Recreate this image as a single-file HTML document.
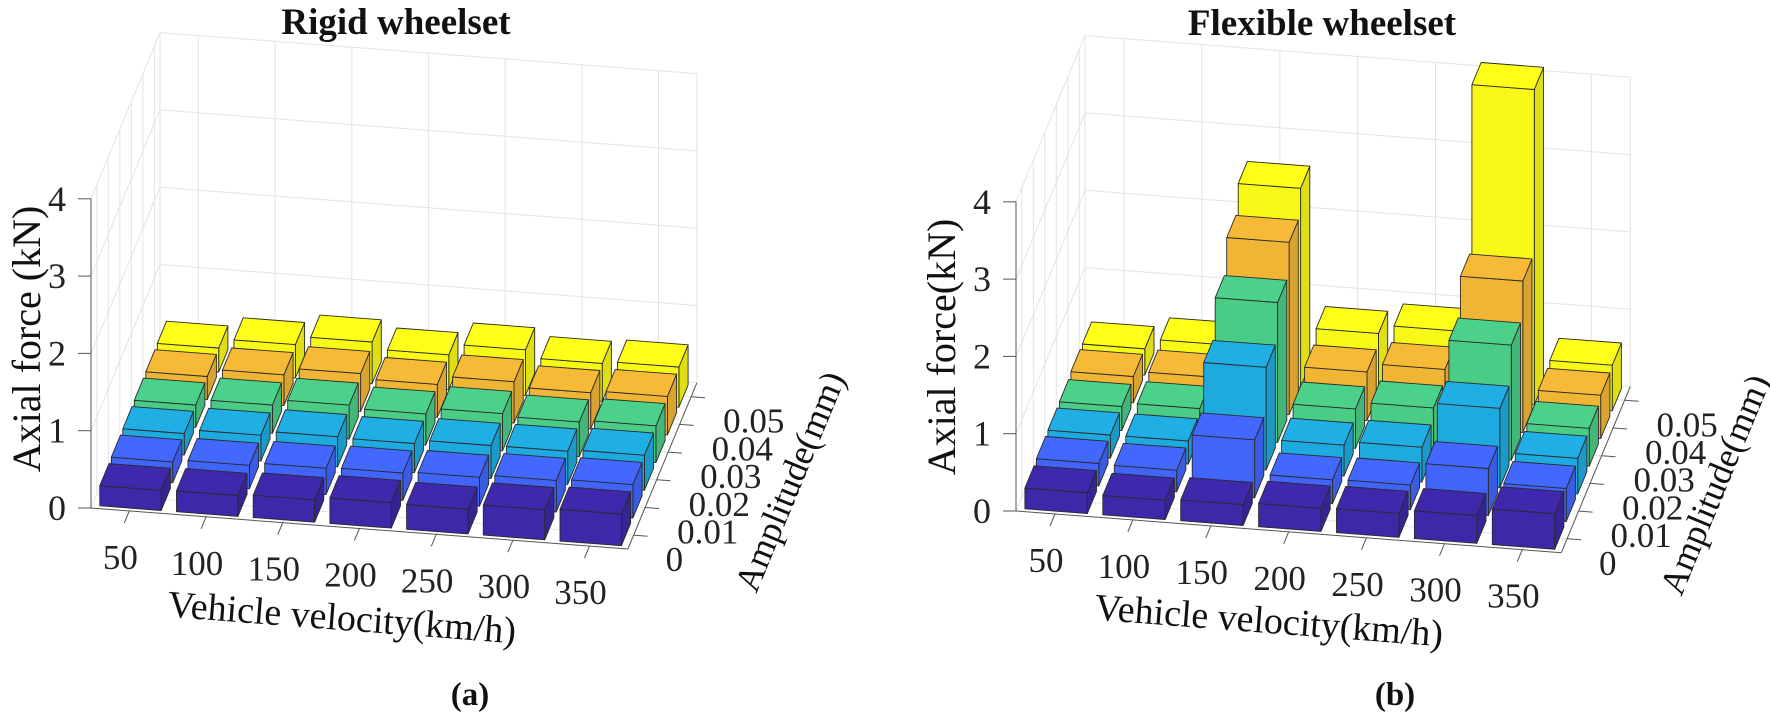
<!DOCTYPE html>
<html><head><meta charset="utf-8">
<style>
html,body{margin:0;padding:0;background:#fff;}
svg, svg text{font-family:"Liberation Serif","Times New Roman","DejaVu Serif",serif;}
</style></head>
<body>
<svg id="s" width="1770" height="717" viewBox="0 0 1770 717" xmlns="http://www.w3.org/2000/svg" font-family="Liberation Serif, serif">
<rect width="1770" height="717" fill="#fff"/>
<g id="L"></g><g id="R"></g>
<g font-family="Liberation Serif, serif" fill="#111">
<text x="396" y="34" font-size="37" font-weight="bold" text-anchor="middle">Rigid wheelset</text>
<text x="1322" y="35" font-size="37" font-weight="bold" text-anchor="middle">Flexible wheelset</text>
<text x="470" y="705" font-size="33" font-weight="bold" text-anchor="middle">(a)</text>
<text x="1395" y="705" font-size="33" font-weight="bold" text-anchor="middle">(b)</text>
<text transform="translate(40,339) rotate(-90)" font-size="40" text-anchor="middle">Axial force (kN)</text>
<text transform="translate(955,347) rotate(-90)" font-size="40" text-anchor="middle">Axial force(kN)</text>
<text transform="translate(341,630) rotate(4.4)" font-size="38" text-anchor="middle">Vehicle velocity(km/h)</text>
<text transform="translate(1268,633) rotate(4.4)" font-size="38" text-anchor="middle">Vehicle velocity(km/h)</text>
<text transform="translate(801,486) rotate(-67.5)" font-size="36" text-anchor="middle">Amplitude(mm)</text>
<text transform="translate(1726,489) rotate(-67.5)" font-size="36" text-anchor="middle">Amplitude(mm)</text>
</g>
</svg>
<script>
var NS="http://www.w3.org/2000/svg";
var cols=["#3c28a8","#4165fb","#1eaade","#4acb86","#f0b535","#f8f816"];
function shade(h,f){var r=parseInt(h.substr(1,2),16),g=parseInt(h.substr(3,2),16),b=parseInt(h.substr(5,2),16);
r=Math.min(255,Math.round(r*f));g=Math.min(255,Math.round(g*f));b=Math.min(255,Math.round(b*f));
return "rgb("+r+","+g+","+b+")";}
function el(p,t,a,txt){var e=document.createElementNS(NS,t);for(var k in a)e.setAttribute(k,a[k]);if(txt!==undefined)e.textContent=txt;p.appendChild(e);return e;}
function chart(gid,ox,oy,pu,H){
  var g=document.getElementById(gid);
  function P(u,v,z){return [ox+(u-0.5)*pu+(v-0.5)*11.5, oy+(u-0.5)*pu*0.0764-(v-0.5)*27.7-77.3*z];}
  function line(a,b,c,w){el(g,"line",{x1:a[0].toFixed(1),y1:a[1].toFixed(1),x2:b[0].toFixed(1),y2:b[1].toFixed(1),stroke:c,"stroke-width":w||1});}
  var gc="#e3e3e3";
  for(var v=1;v<=6;v++)line(P(0.5,v,0),P(7.5,v,0),gc);
  for(var u=1;u<=7;u++)line(P(u,0.5,0),P(u,6.5,0),gc);
  for(var u=1;u<=7;u++)line(P(u,6.5,0),P(u,6.5,4),gc);
  for(var z=1;z<=4;z++)line(P(0.5,6.5,z),P(7.5,6.5,z),gc);
  line(P(0.5,6.5,0),P(0.5,6.5,4),gc);line(P(7.5,6.5,0),P(7.5,6.5,4),gc);
  line(P(0.5,6.5,0),P(7.5,6.5,0),gc);
  for(var v=1;v<=6;v++)line(P(0.5,v,0),P(0.5,v,4),gc);
  for(var z=1;z<=4;z++)line(P(0.5,0.5,z),P(0.5,6.5,z),gc);
  line(P(0.5,0.5,0),P(0.5,6.5,0),gc);
  var ac="#555";
  line(P(0.5,0.5,0),P(0.5,0.5,4),ac);
  line(P(0.5,0.5,0),P(7.5,0.5,0),ac);
  line(P(7.5,0.5,0),P(7.5,6.5,0),ac);
  var ff="Liberation Serif, serif";
  for(var z=0;z<=4;z++){var p=P(0.5,0.5,z);line(p,[p[0]-13,p[1]],ac);
    el(g,"text",{x:p[0]-34,y:p[1]+12,"font-size":36,"text-anchor":"middle","font-family":ff,fill:"#222"},String(z));}
  var vl=["50","100","150","200","250","300","350"];
  for(var u=1;u<=7;u++){var p=P(u,0.5,0);line(p,[p[0]-5,p[1]+12],ac);
    el(g,"text",{x:p[0]-9,y:p[1]+58,"font-size":35,"text-anchor":"middle","font-family":ff,fill:"#222"},vl[u-1]);}
  var al=["0","0.01","0.02","0.03","0.04","0.05"];
  for(var v=1;v<=6;v++){var p=P(7.5,v,0);line(p,[p[0]+14,p[1]+1],ac);
    el(g,"text",{x:p[0]+32,y:p[1]+36,"font-size":35,"font-family":ff,fill:"#222"},al[v-1]);}
  for(var r=6;r>=1;r--){for(var c=1;c<=7;c++){
    var h=H[r-1][c-1],u0=c-0.4,u1=c+0.4,v0=r-0.4,v1=r+0.4,col=cols[r-1];
    function poly(pts,f){el(g,"polygon",{points:pts.map(function(q){return q[0].toFixed(1)+","+q[1].toFixed(1);}).join(" "),fill:f,stroke:"#2a2a2a","stroke-width":0.9,"stroke-linejoin":"round"});}
    poly([P(u1,v0,0),P(u1,v1,0),P(u1,v1,h),P(u1,v0,h)],shade(col,0.9));
    poly([P(u0,v0,0),P(u1,v0,0),P(u1,v0,h),P(u0,v0,h)],col);
    poly([P(u0,v0,h),P(u1,v0,h),P(u1,v1,h),P(u0,v1,h)],shade(col,1.03));
  }}
}
function interp(d,y){var H=[];for(var r=0;r<6;r++){H.push(d.map(function(a,i){return a+(y[i]-a)*r/5;}));}return H;}
var HL=interp([.26,.27,.29,.33,.32,.39,.41],[.31,.43,.54,.45,.59,.49,.52]);
var HR=[
 [.27,.25,.27,.30,.31,.36,.46],
 [.29,.28,.75,.31,.32,.61,.43],
 [.30,.30,1.33,.40,.45,1.03,.46],
 [.31,.36,1.81,.51,.60,1.49,.49],
 [.34,.41,2.23,.63,.74,1.96,.56],
 [.34,.47,2.57,.77,.88,4.08,.59]];
chart("L",91,508,76.7,HL);
chart("R",1016,511,77.9,HR);
</script>
</body></html>
